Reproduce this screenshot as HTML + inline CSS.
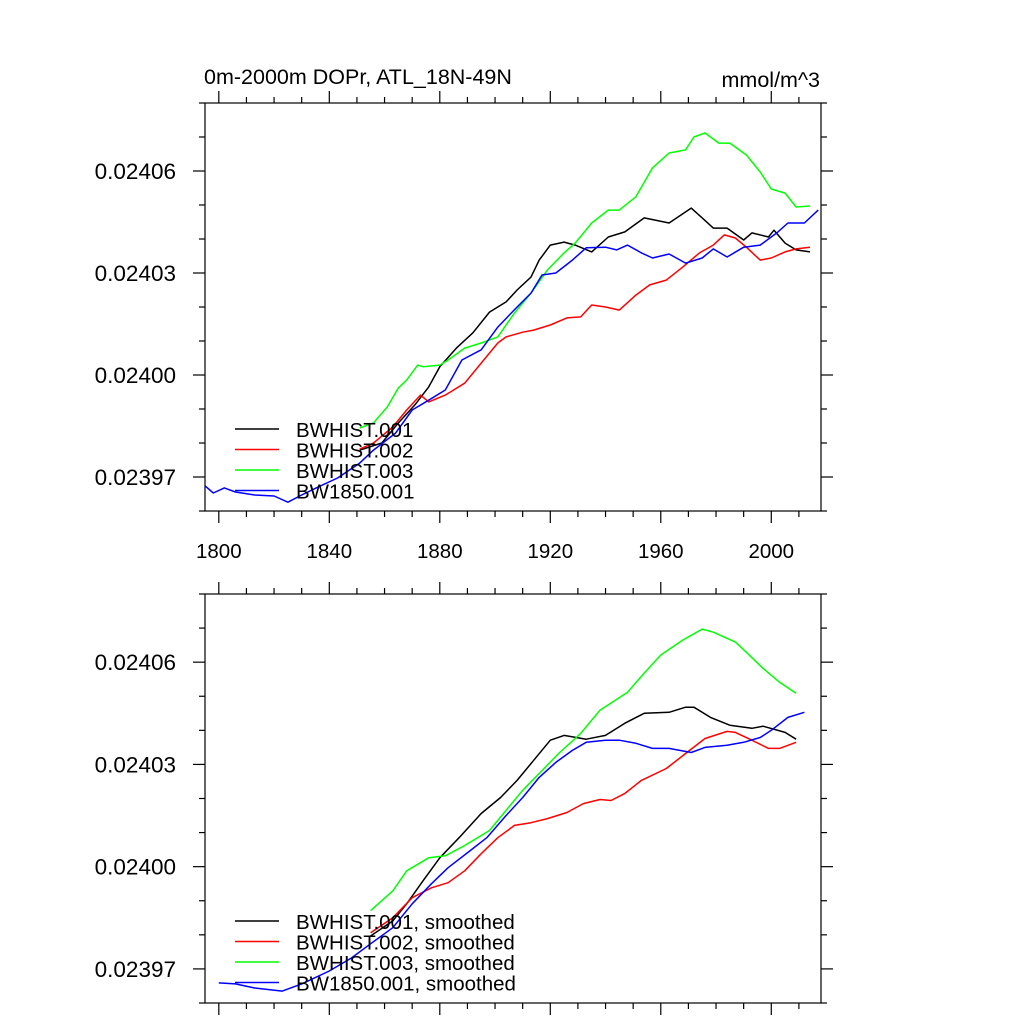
<!DOCTYPE html>
<html><head><meta charset="utf-8"><style>
html,body{margin:0;padding:0;background:#fff;}
svg{display:block;font-family:"Liberation Sans",sans-serif;}
</style></head><body>
<svg id="chart" width="1024" height="1024" viewBox="0 0 1024 1024"></svg>
<script>
// values stored as (value x 1e5), e.g. 2403.5 => 0.024035
const blueTopYears=[1795,1798,1802,1806,1813,1820,1825,1830,1836,1843,1851,1856,1864,1870,1876,1882,1888,1895,1901,1908,1913,1917,1922,1928,1933,1940,1944,1948,1953,1957,1963,1969,1975,1979,1984,1990,1996,2002,2006,2012,2017];
const blueTopVals=[2396.74,2396.53,2396.68,2396.56,2396.47,2396.44,2396.26,2396.47,2396.71,2396.97,2397.41,2397.79,2398.29,2398.97,2399.26,2399.56,2400.44,2400.74,2401.41,2402.00,2402.41,2402.94,2403.00,2403.38,2403.74,2403.76,2403.68,2403.82,2403.59,2403.44,2403.56,2403.29,2403.44,2403.71,2403.47,2403.76,2403.82,2404.18,2404.47,2404.47,2404.85];
const blackTopYears=[1851,1859,1865,1871,1876,1880,1886,1892,1898,1904,1908,1913,1916,1920,1925,1929,1935,1941,1947,1954,1963,1971,1975,1979,1984,1990,1993,1999,2001,2005,2009,2014];
const blackTopVals=[2397.79,2398.00,2398.59,2399.12,2399.65,2400.24,2400.79,2401.24,2401.85,2402.15,2402.50,2402.88,2403.38,2403.82,2403.91,2403.82,2403.62,2404.06,2404.21,2404.62,2404.47,2404.91,2404.62,2404.32,2404.32,2403.97,2404.18,2404.06,2404.26,2403.88,2403.68,2403.62];
const redTopYears=[1851,1856,1863,1868,1873,1876,1882,1885,1889,1895,1901,1904,1910,1914,1920,1926,1931,1935,1940,1945,1951,1956,1962,1968,1974,1979,1983,1987,1991,1996,2000,2005,2009,2014];
const redTopVals=[2397.82,2398.00,2398.47,2398.97,2399.41,2399.21,2399.41,2399.56,2399.76,2400.35,2400.94,2401.12,2401.26,2401.32,2401.47,2401.68,2401.71,2402.06,2402.00,2401.91,2402.35,2402.65,2402.79,2403.18,2403.59,2403.82,2404.12,2404.03,2403.76,2403.38,2403.44,2403.62,2403.71,2403.76];
const greenTopYears=[1851,1856,1861,1865,1868,1872,1874,1880,1883,1889,1895,1901,1907,1913,1919,1925,1929,1935,1941,1945,1951,1957,1963,1969,1972,1976,1981,1985,1991,1996,2000,2005,2009,2014];
const greenTopVals=[2398.44,2398.59,2399.06,2399.62,2399.85,2400.29,2400.24,2400.29,2400.44,2400.79,2400.94,2401.12,2401.82,2402.41,2403.09,2403.59,2403.88,2404.47,2404.85,2404.85,2405.24,2406.09,2406.53,2406.62,2407.00,2407.12,2406.82,2406.82,2406.47,2405.97,2405.47,2405.35,2404.94,2404.97];

const blueBotYears=[1800,1806,1813,1823,1830,1840,1848,1855,1863,1870,1877,1883,1891,1897,1904,1910,1916,1922,1928,1933,1940,1945,1951,1957,1963,1971,1976,1984,1990,1996,2000,2006,2012];
const blueBotVals=[2396.59,2396.56,2396.44,2396.35,2396.56,2396.94,2397.32,2397.74,2398.21,2398.91,2399.50,2399.97,2400.47,2400.85,2401.50,2402.03,2402.62,2403.06,2403.41,2403.65,2403.71,2403.71,2403.62,2403.47,2403.47,2403.35,2403.50,2403.56,2403.65,2403.79,2404.00,2404.38,2404.53];
const blackBotYears=[1855,1863,1868,1874,1880,1887,1895,1902,1908,1914,1920,1925,1933,1940,1947,1954,1963,1969,1972,1978,1985,1993,1997,2005,2009];
const blackBotVals=[2397.97,2398.41,2398.91,2399.59,2400.26,2400.85,2401.56,2402.03,2402.53,2403.12,2403.71,2403.85,2403.74,2403.85,2404.21,2404.50,2404.53,2404.68,2404.68,2404.38,2404.15,2404.06,2404.12,2403.94,2403.74];
const redBotYears=[1855,1863,1870,1877,1883,1889,1895,1901,1907,1913,1919,1926,1932,1938,1942,1947,1953,1962,1969,1976,1984,1987,1993,1999,2003,2009];
const redBotVals=[2398.06,2398.50,2399.09,2399.38,2399.53,2399.88,2400.38,2400.85,2401.21,2401.29,2401.41,2401.59,2401.85,2401.97,2401.94,2402.15,2402.53,2402.88,2403.32,2403.76,2403.97,2403.94,2403.71,2403.47,2403.47,2403.65];
const greenBotYears=[1855,1863,1868,1876,1882,1889,1898,1904,1910,1917,1923,1931,1938,1948,1954,1960,1968,1975,1979,1987,1991,1997,2003,2009];
const greenBotVals=[2398.71,2399.29,2399.88,2400.26,2400.32,2400.62,2401.06,2401.65,2402.24,2402.82,2403.32,2403.91,2404.59,2405.12,2405.68,2406.21,2406.65,2406.97,2406.88,2406.59,2406.29,2405.82,2405.41,2405.09];

const xTickYears=[1800,1840,1880,1920,1960,2000];
const xTickLabels=["1800","1840","1880","1920","1960","2000"];
const yTickVals=[2397,2400,2403,2406];
const yTickLabels=["0.02397","0.02400","0.02403","0.02406"];
const topLegend=["BWHIST.001","BWHIST.002","BWHIST.003","BW1850.001"];
const botLegend=["BWHIST.001, smoothed","BWHIST.002, smoothed","BWHIST.003, smoothed","BW1850.001, smoothed"];
const colors=["#000000","#ff0000","#00ff00","#0000ff"];

const NS="http://www.w3.org/2000/svg";
const svg=document.getElementById('chart');
function mk(tag,attrs,parent){const e=document.createElementNS(NS,tag);for(const k in attrs)e.setAttribute(k,attrs[k]);(parent||svg).appendChild(e);return e;}
const X0=205,X1=821,YR0=1795,YR1=2018;
function xs(yr){return X0+(yr-YR0)/(YR1-YR0)*(X1-X0);}
function makeY(top,bot){return v=>bot-(v-2396)/(2408-2396)*(bot-top);}

function panel(top,bot,name,series,legend,showXLabels){
  const g=mk('g',{});
  
  
  const ys=makeY(top,bot);
  const box=mk('rect',{x:X0,y:top,width:X1-X0,height:bot-top,fill:'none',stroke:'#000','stroke-width':1.2},g);
  
  
  const tk=mk('g',{stroke:'#000','stroke-width':1.2},g);
  
  
  for(let yr=1800;yr<=2010;yr+=10){
    const major=(yr-1800)%40===0, L=major?12:6, x=xs(yr);
    mk('line',{x1:x,x2:x,y1:bot,y2:bot+L},tk);
    mk('line',{x1:x,x2:x,y1:top,y2:top-L},tk);
  }
  for(let v=2396;v<=2408;v+=1){
    const major=(v-2397)%3===0, L=major?12:6, y=ys(v);
    mk('line',{x1:X0,x2:X0-L,y1:y,y2:y},tk);
    mk('line',{x1:X1,x2:X1+L,y1:y,y2:y},tk);
  }
  yTickVals.forEach((v,i)=>{
    const t=mk('text',{x:176,y:ys(v)+8,'text-anchor':'end','font-size':22.5,fill:'#000'},g);
    t.textContent=yTickLabels[i];
    
    
  });
  if(showXLabels){
    xTickYears.forEach((yr,i)=>{
      const t=mk('text',{x:xs(yr),y:bot+47,'text-anchor':'middle','font-size':20.5,fill:'#000'},g);
      t.textContent=xTickLabels[i];
      
      
    });
  }
  series.forEach((s,i)=>{
    const d=s[0].map((yr,j)=>(j?'L':'M')+xs(yr).toFixed(1)+' '+ys(s[1][j]).toFixed(1)).join(' ');
    const p=mk('path',{d:d,fill:'none',stroke:colors[i],'stroke-width':1.5,'stroke-linejoin':'round'},g);
    
    
  });
  const lg=mk('g',{},g);
  
  
  const ly0=bot-82;
  legend.forEach((lab,i)=>{
    const y=ly0+i*20.5;
    const l=mk('line',{x1:235,x2:279,y1:y,y2:y,stroke:colors[i],'stroke-width':1.5},lg);
    
    
    const t=mk('text',{x:296,y:y+8,'font-size':20.5,fill:'#000'},lg);
    t.textContent=lab;
    
    
  });
}
panel(103,511,'top-panel',[[blackTopYears,blackTopVals],[redTopYears,redTopVals],[greenTopYears,greenTopVals],[blueTopYears,blueTopVals]],topLegend,true);
panel(594,1003,'bottom-panel',[[blackBotYears,blackBotVals],[redBotYears,redBotVals],[greenBotYears,greenBotVals],[blueBotYears,blueBotVals]],botLegend,false);
const t1=mk('text',{x:204,y:84,'font-size':21.5,fill:'#000'});
t1.textContent='0m-2000m DOPr, ATL_18N-49N';


const t2=mk('text',{x:820,y:87,'font-size':21.5,'text-anchor':'end',fill:'#000'});
t2.textContent='mmol/m^3';


</script>
</body></html>
